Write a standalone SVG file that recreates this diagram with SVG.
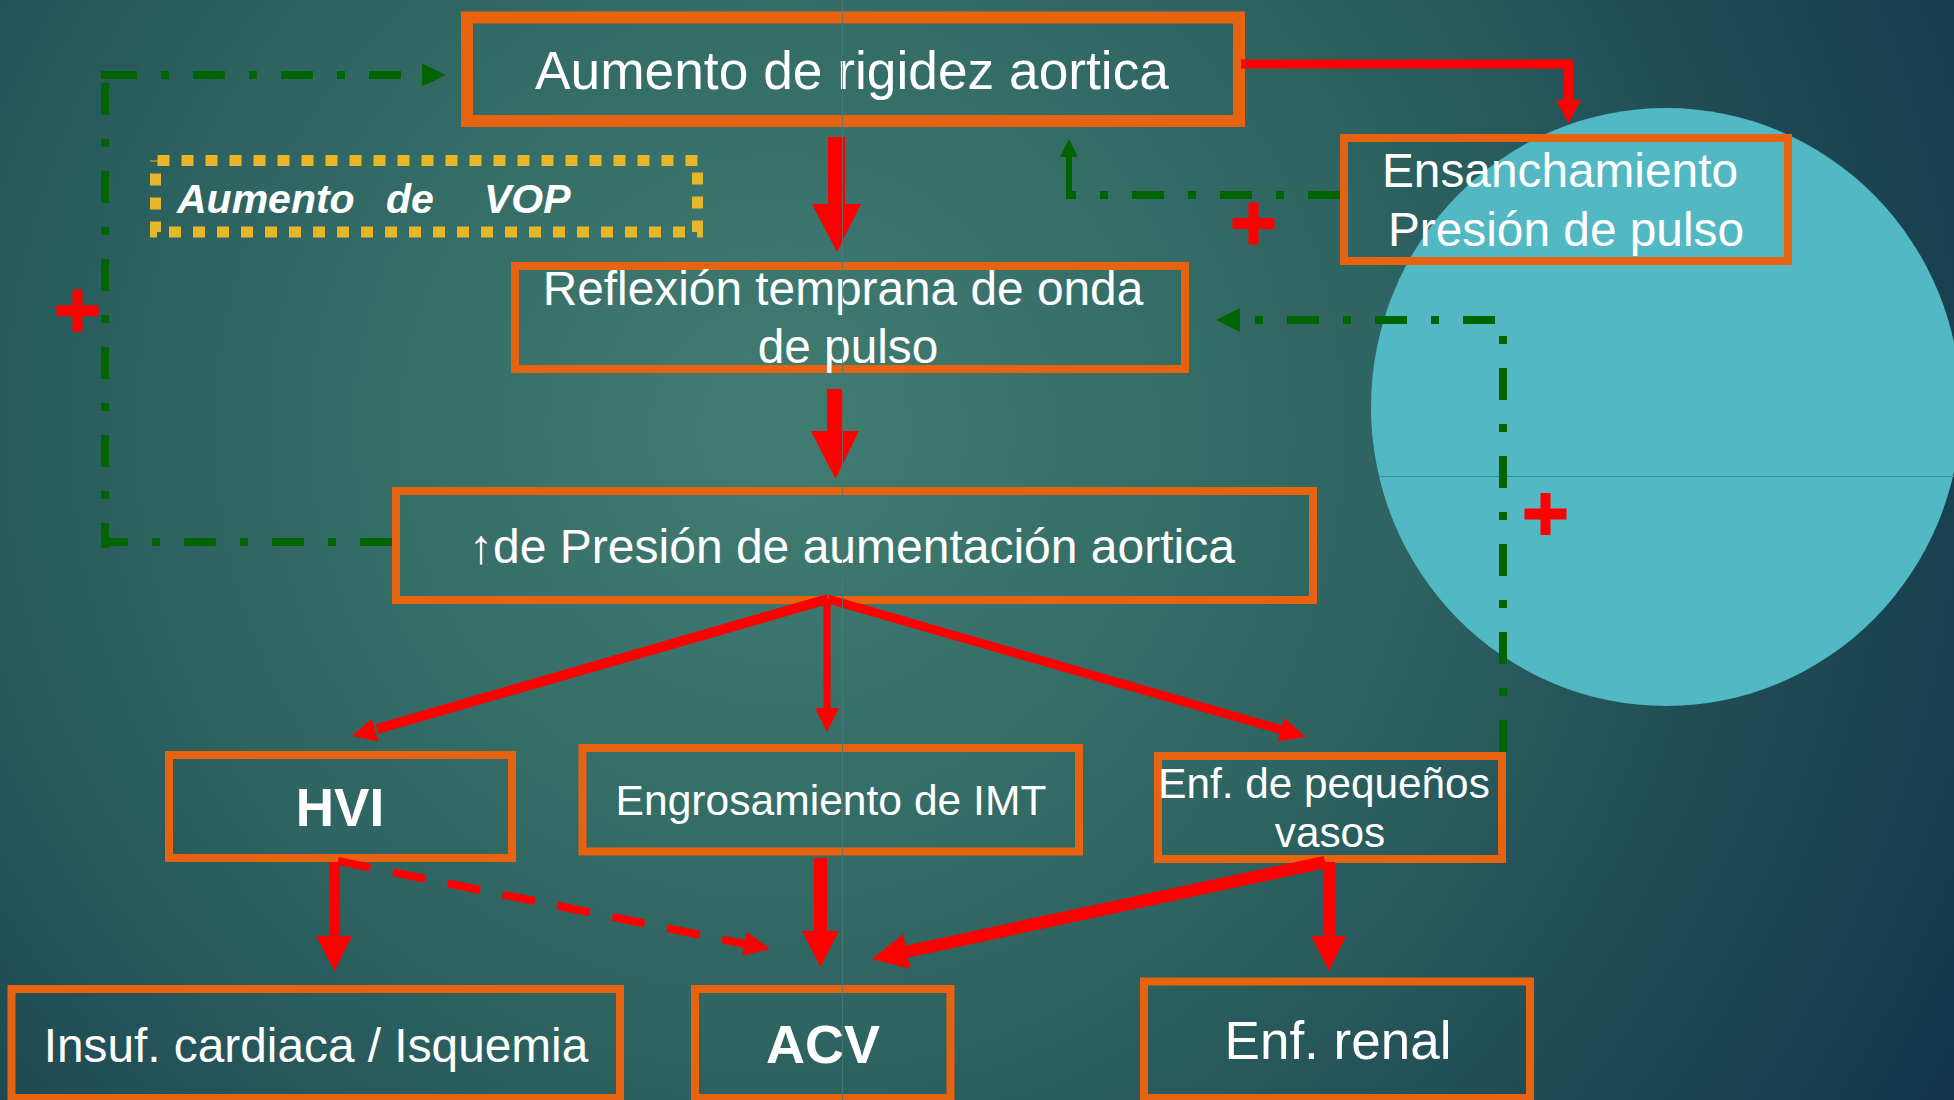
<svg xmlns="http://www.w3.org/2000/svg" width="1954" height="1100" viewBox="0 0 1954 1100">
<defs>
<radialGradient id="bg" gradientUnits="userSpaceOnUse" cx="780" cy="430" r="1350">
<stop offset="0" stop-color="#417D72"/>
<stop offset="0.45" stop-color="#2E6461"/>
<stop offset="1" stop-color="#12354A"/>
</radialGradient>
<style>
.box{fill:none;stroke:#E8630F;stroke-width:8}
.t{font-family:"Liberation Sans",Arial,sans-serif;fill:#FFFFFF;text-anchor:middle}
.b{font-weight:bold}
.rh{fill:#FF0000}
.rl{stroke:#FF0000;fill:none}
.gl{stroke:#006400;fill:none;stroke-width:8;stroke-dasharray:32 24 8 24}
.gh{fill:#006400}
</style>
<g id="plus">
<rect x="-21" y="-5.5" width="42" height="11" fill="#FF0000"/>
<rect x="-5" y="-21" width="10" height="42" fill="#FF0000"/>
</g>
</defs>

<rect x="0" y="0" width="1954" height="1100" fill="url(#bg)"/>
<ellipse cx="1666" cy="407" rx="295" ry="299" fill="#52B9C4"/>
<line x1="1379" y1="476.5" x2="1954" y2="476.5" stroke="#3A8F99" stroke-width="1.2"/>

<g id="n-rigidez">
<rect class="box" x="467" y="17.5" width="772" height="103.5" style="stroke-width:12"/>
<text class="t" x="852" y="89" font-size="53.3">Aumento de rigidez aortica</text>
</g>
<g id="n-vop">
<rect x="155.5" y="160.5" width="542" height="71.5" fill="none" stroke="#E6B62B" stroke-width="11" stroke-dasharray="12 12" stroke-dashoffset="-2"/>
<text class="t b" font-style="italic" font-size="41" y="212.5" style="text-anchor:start"><tspan x="177">Aumento</tspan><tspan x="386">de</tspan><tspan x="484">VOP</tspan></text>
</g>
<g id="n-ensanch">
<rect class="box" x="1344" y="138" width="444" height="123"/>
<text class="t" font-size="47.8"><tspan x="1560" y="187">Ensanchamiento</tspan><tspan x="1566" y="246">Presión de pulso</tspan></text>
</g>
<g id="n-reflexion">
<rect class="box" x="515" y="266" width="670" height="103"/>
<text class="t" font-size="47.8"><tspan x="843" y="305">Reflexión temprana de onda</tspan><tspan x="848" y="363">de pulso</tspan></text>
</g>
<g id="n-presion">
<rect class="box" x="396" y="491" width="917" height="109"/>
<text class="t" x="852" y="563" font-size="48">↑de Presión de aumentación aortica</text>
</g>
<g id="n-hvi">
<rect class="box" x="169" y="755" width="343" height="103"/>
<text class="t b" x="340" y="826" font-size="53">HVI</text>
</g>
<g id="n-imt">
<rect class="box" x="582.5" y="748" width="496.5" height="103.5"/>
<text class="t" x="831" y="815" font-size="42.6">Engrosamiento de IMT</text>
</g>
<g id="n-vasos">
<rect class="box" x="1158" y="756" width="344" height="103"/>
<text class="t" font-size="42.3"><tspan x="1324" y="798">Enf. de pequeños</tspan><tspan x="1330" y="847">vasos</tspan></text>
</g>
<g id="n-insuf">
<rect class="box" x="11.5" y="989" width="608.5" height="109"/>
<text class="t" x="316" y="1062" font-size="47.8">Insuf. cardiaca / Isquemia</text>
</g>
<g id="n-acv">
<rect class="box" x="695" y="989" width="255.5" height="109"/>
<text class="t b" x="823" y="1063" font-size="54">ACV</text>
</g>
<g id="n-renal">
<rect class="box" x="1144" y="981.5" width="386" height="116.5"/>
<text class="t" x="1338" y="1059" font-size="53">Enf. renal</text>
</g>

<g id="connectors">
<path class="rl" d="M1241,64 H1568.5 V101" stroke-width="9"/>
<polygon class="rh" points="1556,100 1581,100 1568.5,123"/>
<rect class="rh" x="828" y="137" width="17" height="68"/>
<polygon class="rh" points="812,204 861,204 837,252"/>
<rect class="rh" x="827" y="389" width="16" height="43"/>
<polygon class="rh" points="811,431 859,431 835.5,479"/>
<path class="rl" d="M828,599 L377,729" stroke-width="10"/>
<polygon class="rh" points="352,736 371.7,719 378.3,741.7"/>
<path class="rl" d="M827,599 V709" stroke-width="7"/>
<polygon class="rh" points="815,708 839,708 827,732"/>
<path class="rl" d="M828,599 L1282,730" stroke-width="9"/>
<polygon class="rh" points="1306,737 1284.3,718.3 1277.7,741.3"/>
<path class="rl" d="M334.5,862 V937" stroke-width="11"/>
<polygon class="rh" points="316,936 352,936 334.5,971"/>
<path class="rl" d="M338,861 L745,944" stroke-width="8" stroke-dasharray="33 23"/>
<polygon class="rh" points="770,949 746.9,932 742.1,955.6"/>
<path class="rl" d="M820.5,858 V932" stroke-width="13"/>
<polygon class="rh" points="802,931 839,931 820.5,967"/>
<path class="rl" d="M1329,862 V937" stroke-width="12"/>
<polygon class="rh" points="1311,936 1346,936 1329,971"/>
<path class="rl" d="M1325,862 L905,952" stroke-width="12.5"/>
<polygon class="rh" points="872,959 903.3,934 910,969"/>
<path class="gl" d="M392,542 H101"/>
<path class="gl" d="M105,83 V548"/>
<path class="gl" d="M105,75 H422"/>
<rect class="gh" x="101" y="71" width="8" height="8"/>
<polygon class="gh" points="422,63.5 446,75 422,86.5"/>
<path class="gl" d="M1340,195 H1066"/>
<path d="M1069,198 V155" stroke="#006400" stroke-width="6"/>
<polygon class="gh" points="1060,157 1078,157 1069,139"/>
<path class="gl" d="M1503,752 V320 H1238"/>
<polygon class="gh" points="1240,308 1240,332 1216,320"/>
</g>

<use href="#plus" x="1253.5" y="223.5"/>
<use href="#plus" x="77.5" y="310.7"/>
<use href="#plus" x="1545.5" y="514"/>

<line x1="842.5" y1="0" x2="842.5" y2="1100" stroke="#4E7872" stroke-width="1" opacity="0.8"/>
</svg>
